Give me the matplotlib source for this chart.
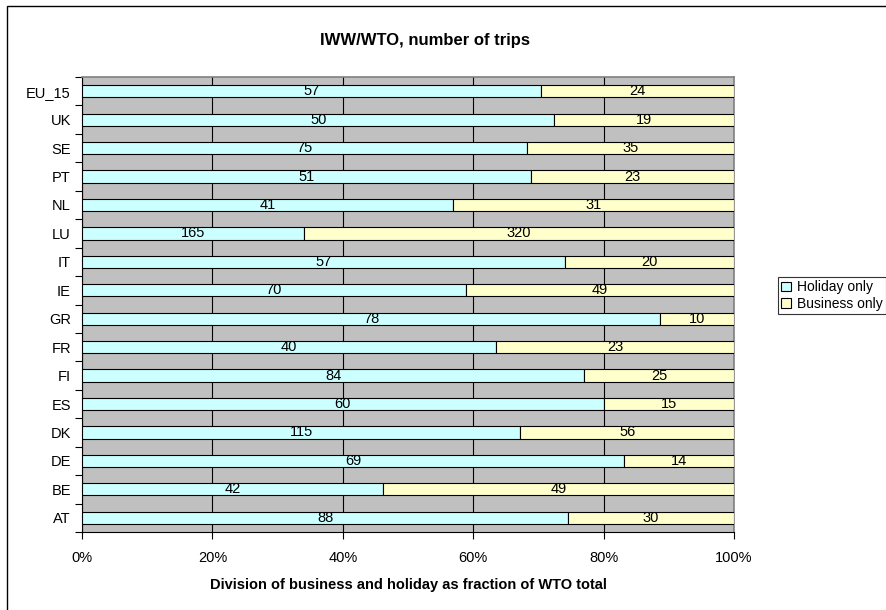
import matplotlib
matplotlib.use("Agg")
import matplotlib.pyplot as plt
from matplotlib.patches import Rectangle, Patch
import numpy as np

categories = ["AT", "BE", "DE", "DK", "ES", "FI", "FR", "GR", "IE", "IT", "LU", "NL", "PT", "SE", "UK", "EU_15"]
holiday = [88, 42, 69, 115, 60, 84, 40, 78, 70, 57, 165, 41, 51, 75, 50, 57]
business = [30, 49, 14, 56, 15, 25, 23, 10, 49, 20, 320, 31, 23, 35, 19, 24]
xticklabels = ["0%", "20%", "40%", "60%", "80%", "100%"]

plt.rcParams['font.family'] = ['Liberation Sans', 'DejaVu Sans']

W, H = 887, 610
fig = plt.figure(figsize=(W / 100, H / 100), dpi=100)
ax = fig.add_axes([82 / W, 1 - 532 / H, (734 - 82) / W, (532 - 77) / H])

h = np.array(holiday, float)
b = np.array(business, float)
tot = h + b
hf = h / tot
bf = b / tot
y = np.arange(len(categories))

ax.set_facecolor("#c0c0c0")
bh = 0.43
ax.barh(y, hf, height=bh, color="#ccffff", edgecolor="black", linewidth=0.8, label="Holiday only", zorder=3)
ax.barh(y, bf, left=hf, height=bh, color="#ffffcc", edgecolor="black", linewidth=0.8, label="Business only", zorder=3)

for i in range(len(categories)):
    ax.text(hf[i] / 2, y[i], str(holiday[i]), ha="center", va="center", fontsize=10.5, zorder=4)
    ax.text(hf[i] + bf[i] / 2, y[i], str(business[i]), ha="center", va="center", fontsize=10.5, zorder=4)

ax.set_xlim(0, 1)
ax.set_ylim(-0.5, len(categories) - 0.5)
ax.set_xticks(np.linspace(0, 1, 6))
ax.set_xticklabels(xticklabels, fontsize=10.5)
ax.set_yticks(y)
ax.set_yticklabels(categories, fontsize=10.5)
ax.set_yticks(np.arange(-0.5, len(categories), 1), minor=True)
ax.tick_params(axis="y", which="major", length=0, pad=8)
ax.tick_params(axis="y", which="minor", length=5, direction="out", width=0.8)
ax.tick_params(axis="x", which="major", length=5, direction="out", width=0.8, pad=9)
ax.grid(axis="x", color="black", linewidth=0.8, zorder=1)
ax.set_axisbelow(True)
for side in ["top", "right"]:
    ax.spines[side].set_color("#808080")
    ax.spines[side].set_linewidth(1.2)
for side in ["left", "bottom"]:
    ax.spines[side].set_color("black")
    ax.spines[side].set_linewidth(0.8)

ax.set_xlabel("Division of business and holiday as fraction of WTO total", fontsize=10.5, fontweight="bold", labelpad=9)
fig.text(425 / W, 1 - 40 / H, "IWW/WTO, number of trips", ha="center", va="center", fontsize=12, fontweight="bold")

handles = [Patch(facecolor="#ccffff", edgecolor="black", linewidth=0.8),
           Patch(facecolor="#ffffcc", edgecolor="black", linewidth=0.8)]
leg = fig.legend(handles, ["Holiday only", "Business only"], loc="upper left",
                 bbox_to_anchor=(778 / W, 1 - 277 / H), fontsize=10, frameon=True,
                 fancybox=False, edgecolor="black", handlelength=0.7, handleheight=0.7,
                 handletextpad=0.4, borderpad=0.25, labelspacing=0.15, borderaxespad=0)
leg.get_frame().set_linewidth(0.8)

fig.patches.append(Rectangle((7 / W, -0.1), 1.2, 1.1 - 6 / H, transform=fig.transFigure,
                             fill=False, edgecolor="black", linewidth=1.0))

fig.savefig("out.png", dpi=100, facecolor="white")
